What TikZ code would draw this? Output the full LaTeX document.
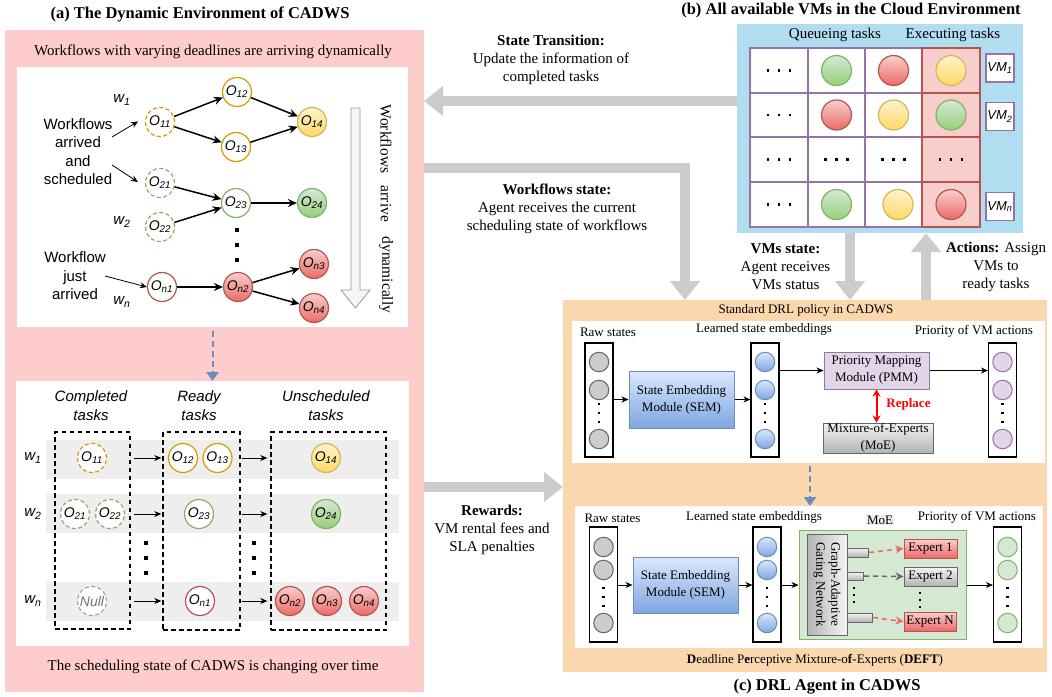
\documentclass[tikz,border=0pt]{standalone}
\usepackage{fontspec}
\setmainfont{Liberation Serif}
\setsansfont{Liberation Sans}
\usetikzlibrary{arrows.meta,calc}
\definecolor{pinkbg}{HTML}{FFCCCC}
\definecolor{bluebg}{HTML}{B1DDF0}
\definecolor{orgbg}{HTML}{FAD7AC}
\definecolor{arrg}{HTML}{CCCCCC}
\definecolor{orgs}{HTML}{D79B00}
\definecolor{yels}{HTML}{D6B656}
\definecolor{yela}{HTML}{FFF2CC}
\definecolor{yelb}{HTML}{FFD966}
\definecolor{grns}{HTML}{82B366}
\definecolor{grna}{HTML}{D5E8D4}
\definecolor{grnb}{HTML}{97D077}
\definecolor{reds}{HTML}{B85450}
\definecolor{reda}{HTML}{F8CECC}
\definecolor{redb}{HTML}{EA6B66}
\definecolor{purs}{HTML}{9673A6}
\definecolor{pura}{HTML}{E1D5E7}
\definecolor{blus}{HTML}{6C8EBF}
\definecolor{blua}{HTML}{DAE8FC}
\definecolor{blub}{HTML}{7EA6E0}
\definecolor{gras}{HTML}{666666}
\definecolor{graa}{HTML}{F5F5F5}
\definecolor{grab}{HTML}{B3B3B3}
\definecolor{rowg}{HTML}{EEEEEE}
\definecolor{repl}{HTML}{FF0000}
\newcommand\fsz[2]{\fontsize{#1}{#2}\selectfont}
\begin{document}
\begin{tikzpicture}[x=1pt,y=-1pt,
  box/.style={anchor=north west,inner sep=0pt,outer sep=0pt},
  t15/.style={font=\fsz{15}{18},align=center,inner sep=0pt},
  t13/.style={font=\fsz{13}{16},align=center,inner sep=0pt},
  ttl/.style={font=\bfseries\fsz{16.5}{20},inner sep=0pt},
  sflab/.style={font=\sffamily\fsz{15}{18.5},align=center,inner sep=0pt},
  sfit/.style={font=\sffamily\itshape\fsz{15}{19},align=center,inner sep=0pt},
  tk/.style={circle,minimum size=29pt,inner sep=0pt,line width=1.2pt,font=\sffamily\itshape\fsz{14}{14}},
  dsh/.style={dash pattern=on 4pt off 2.5pt},
  orgc/.style={tk,draw=orgs,fill=white},
  orgd/.style={orgc,dsh},
  yelf/.style={tk,draw=yels,top color=yela,bottom color=yelb},
  grnc/.style={tk,draw=grns,fill=white},
  grnd/.style={grnc,dsh},
  grnf/.style={tk,draw=grns,top color=grna,bottom color=grnb},
  redc/.style={tk,draw=reds,fill=white},
  redf/.style={tk,draw=reds,top color=reda,bottom color=redb},
  nullc/.style={tk,draw=gray!70,dsh,fill=white,text=gray!90!black},
  thk/.style={line width=1.5pt,-{Stealth[length=9pt,width=8pt]}},
  thn/.style={line width=0.8pt,-{Stealth[length=7pt,width=6pt]}},
  big/.style={line width=10pt,draw=arrg,line join=miter,-{Triangle[length=19pt,width=29pt]}},
  bdash/.style={draw=blus,line width=2pt,dash pattern=on 6pt off 4pt,-{Triangle[length=9pt,width=12pt]}},
  dbox/.style={draw=black,line width=1.4pt,dash pattern=on 4.5pt off 3.5pt,inner sep=0pt},
  vmc/.style={circle,minimum size=30pt,inner sep=0pt,line width=1.2pt},
  vmg/.style={vmc,draw=grns,top color=grna,bottom color=grnb},
  vmr/.style={vmc,draw=reds,top color=reda,bottom color=redb},
  vmy/.style={vmc,draw=yels,top color=yela,bottom color=yelb},
  vmcell/.style={draw=purs,line width=1.5pt,fill=white},
  excell/.style={draw=reds,line width=1.5pt,fill=reda},
  vmlab/.style={draw=purs,line width=1.5pt,fill=white,minimum width=28pt,minimum height=28pt,inner sep=0pt,font=\sffamily\itshape\fsz{13}{13}},
  colbox/.style={draw=black,fill=white,line width=1.2pt,minimum width=28pt,inner sep=0pt},
  nc/.style={circle,minimum size=19.5pt,inner sep=0pt,line width=1pt},
  gc/.style={nc,draw=gras,fill=black!20},
  bc/.style={nc,draw=blus,top color=blua,bottom color=blub},
  pc/.style={nc,draw=purs,fill=pura},
  ec/.style={nc,draw=grns,fill=grna},
  mod/.style={inner sep=0pt,font=\fsz{13}{17},align=center},
  sem/.style={mod,draw=blus,top color=blua,bottom color=blub,line width=1pt,minimum width=105pt,minimum height=57pt},
  grad/.style={draw=gras,top color=graa,bottom color=grab,line width=1pt},
  hd/.pic={\foreach \dd in {-11,0,11}{\fill (\dd-1.4,-1.4) rectangle (\dd+1.4,1.4);}},
  vdb/.pic={\foreach \dd in {-15,0,15}{\fill (-1.7,\dd-1.7) rectangle (1.7,\dd+1.7);}},
  vd/.pic={\foreach \dd in {-9,0,9}{\fill (-1.1,\dd-1.1) rectangle (1.1,\dd+1.1);}},
  vds/.pic={\foreach \dd in {-7,0,7}{\fill (-1,\dd-1) rectangle (1,\dd+1);}},
]
\useasboundingbox (0,0) rectangle (1052,696);
% ---------------- (a) ----------------
\node[ttl] (ta) at (200,14) {(a) The Dynamic Environment of CADWS};
\node[box,fill=pinkbg,minimum width=419pt,minimum height=662pt] (pp) at (5,30) {};
\node[t15] (pt1) at (213,52) {Workflows with varying deadlines are arriving dynamically};
\node[box,fill=white,minimum width=391pt,minimum height=260pt] (wb1) at (17,67) {};
\node[box,fill=white,minimum width=393pt,minimum height=265pt] (wb2) at (16,381) {};
\node[t15] (pt2) at (213,667) {The scheduling state of CADWS is changing over time};
\draw[bdash,shorten <=4pt] (wb1.south) -- (wb2.north);
% top graph
\node[orgd] (o11) at (160,122) {O\textsubscript{11}};
\node[orgc] (o12) at (237,92) {O\textsubscript{12}};
\node[orgc] (o13) at (236,147) {O\textsubscript{13}};
\node[yelf] (o14) at (312,122) {O\textsubscript{14}};
\node[grnd] (o21) at (160,183) {O\textsubscript{21}};
\node[grnd] (o22) at (160,227) {O\textsubscript{22}};
\node[grnc] (o23) at (236,203) {O\textsubscript{23}};
\node[grnf] (o24) at (312,203) {O\textsubscript{24}};
\node[redc] (on1) at (162,287) {O\textsubscript{n1}};
\node[redf] (on2) at (238,287) {O\textsubscript{n2}};
\node[redf] (on3) at (314,264) {O\textsubscript{n3}};
\node[redf] (on4) at (314,308) {O\textsubscript{n4}};
\draw[thk] (o11) -- (o12);
\draw[thk] (o11) -- (o13);
\draw[thk] (o12) -- (o14);
\draw[thk] (o13) -- (o14);
\draw[thk] (o21) -- (o23);
\draw[thk] (o22) -- (o23);
\draw[thk] (o23) -- (o24);
\draw[thk] (on1) -- (on2);
\draw[thk] (on2) -- (on3);
\draw[thk] (on2) -- (on4);
\pic at (237,245) {vdb};
\node[sfit] (lw1) at (122,100) {w\textsubscript{1}};
\node[sfit] (lw2) at (122,222) {w\textsubscript{2}};
\node[sfit] (lwn) at (122,302) {w\textsubscript{n}};
\node[sflab] (tx1) at (78,151.5) {Workflows\\arrived\\and\\scheduled};
\node[sflab] (tx2) at (75,276) {Workflow\\just\\arrived};
\coordinate (p1) at (112,137);
\coordinate (p2) at (112,165);
\coordinate (p3) at (105,276);
\draw[thn,shorten >=9pt] (p1) -- (o11.160);
\draw[thn,shorten >=9pt] (p2) -- (o21.195);
\draw[thn] (p3) -- (on1.west);
\draw[draw=gray!80,fill=graa,line width=0.8pt] (351,108) -- (360,108) -- (360,290) -- (370,290) -- (355.5,308) -- (341,290) -- (351,290) -- cycle;
\node[t15,font=\fsz{15.5}{16},rotate=-90] (r1) at (386,139) {Workflows};
\node[t15,font=\fsz{15.5}{16},rotate=-90] (r2) at (386,204) {arrive};
\node[t15,font=\fsz{15.5}{16},rotate=-90] (r3) at (386,275) {dynamically};
% bottom table
\fill[rowg] (46,440) rectangle (399,479);
\fill[rowg] (46,494) rectangle (399,533);
\fill[rowg] (46,582) rectangle (399,621);
\node[sfit] (h1) at (91,406) {Completed\\tasks};
\node[sfit] (h2) at (199,406) {Ready\\tasks};
\node[sfit] (h3) at (326,406) {Unscheduled\\tasks};
\node[dbox,minimum width=75pt,minimum height=197pt] (db1) at (92.5,530.5) {};
\node[dbox,minimum width=77pt,minimum height=198pt] (db2) at (201.5,531) {};
\node[dbox,minimum width=115pt,minimum height=198pt] (db3) at (328.5,531) {};
\node[sfit] (bw1) at (33,458) {w\textsubscript{1}};
\node[sfit] (bw2) at (33,514) {w\textsubscript{2}};
\node[sfit] (bwn) at (33,601) {w\textsubscript{n}};
\node[orgd] (b11) at (92,458) {O\textsubscript{11}};
\node[orgc] (b12) at (183,458) {O\textsubscript{12}};
\node[orgc] (b13) at (217.5,458) {O\textsubscript{13}};
\node[yelf] (b14) at (326,458) {O\textsubscript{14}};
\node[grnd] (b21) at (75,514) {O\textsubscript{21}};
\node[grnd] (b22) at (110,514) {O\textsubscript{22}};
\node[grnc] (b23) at (199,514) {O\textsubscript{23}};
\node[grnf] (b24) at (326,514) {O\textsubscript{24}};
\node[nullc] (bn0) at (92,601) {Null};
\node[redc] (bn1) at (200,601) {O\textsubscript{n1}};
\node[redf] (bn2) at (290,601) {O\textsubscript{n2}};
\node[redf] (bn3) at (327,601) {O\textsubscript{n3}};
\node[redf] (bn4) at (364,601) {O\textsubscript{n4}};
\foreach \r in {b11,b21,bn0}{
  \draw[thn,shorten <=3pt,shorten >=1pt] (db1.east |- \r) -- (db2.west |- \r);
  \draw[thn,shorten <=1pt,shorten >=3pt] (db2.east |- \r) -- (db3.west |- \r);
}
\pic at (146,558) {vdb};
\pic at (254,558) {vdb};
% ---------------- (b) ----------------
\node[ttl] (tb) at (851,11) {(b) All available VMs in the Cloud Environment};
\node[box,fill=bluebg,minimum width=286pt,minimum height=209pt] (bp) at (737,24) {};
\node[t15] (qt) at (835,35) {Queueing tasks};
\node[t15] (et) at (953,35) {Executing tasks};
\foreach \xa/\xb in {750/808,808/865,865/922}
  \foreach \ya/\yb in {48/93,93/137,137/182,182/227}
    \draw[vmcell] (\xa,\ya) rectangle (\xb,\yb);
\foreach \ya/\yb in {48/93,93/137,137/182,182/227}
  \draw[excell] (922,\ya) rectangle (980,\yb);
\node[vmg] (c12) at (836.5,70.5) {};
\node[vmr] (c13) at (893.5,70.5) {};
\node[vmy] (c14) at (951,70.5) {};
\node[vmr] (c22) at (836.5,115) {};
\node[vmy] (c23) at (893.5,115) {};
\node[vmg] (c24) at (951,115) {};
\node[vmg] (c42) at (836.5,204.5) {};
\node[vmy] (c43) at (898,204.5) {};
\node[vmr] (c44) at (951,204.5) {};
\pic at (779,70.5) {hd};
\pic at (779,115) {hd};
\pic at (779,159.5) {hd};
\pic at (836.5,159.5) {hd};
\pic at (893.5,159.5) {hd};
\pic at (951,159.5) {hd};
\pic at (779,204.5) {hd};
\node[vmlab] (vm1) at (1000,68) {VM\textsubscript{1}};
\node[vmlab] (vm2) at (1000,116.5) {VM\textsubscript{2}};
\node[vmlab] (vmn) at (1000,206.5) {VM\textsubscript{n}};
% ---------------- (c) ----------------
\node[box,fill=orgbg,minimum width=484pt,minimum height=372pt] (op) at (563,300) {};
\node[t13] (sd) at (806,310) {Standard DRL policy in CADWS};
\node[box,fill=white,minimum width=473pt,minimum height=142pt] (wu) at (572,321) {};
\node[box,fill=white,minimum width=468pt,minimum height=142pt] (wl) at (575,506) {};
\coordinate (hDA) at (810,0);
\draw[bdash,shorten <=3pt] (wu.south -| hDA) -- (wl.north -| hDA);
% upper
\node[t13] (ul1) at (608,332) {Raw states};
\node[t13] (ul2) at (764,329) {Learned state embeddings};
\node[t13] (ul3) at (974,331) {Priority of VM actions};
\node[colbox,minimum height=114pt] (ru) at (599,400) {};
\node[gc] (ru1) at (599,362) {};
\node[gc] (ru2) at (599,390) {};
\node[gc] (ru3) at (599,439) {};
\pic at (599,413) {vd};
\node[sem] (semu) at (681.5,399.5) {State Embedding\\Module (SEM)};
\node[colbox,minimum height=114pt] (eu) at (765,400) {};
\node[bc] (eu1) at (765,362) {};
\node[bc] (eu2) at (765,390) {};
\node[bc] (eu3) at (765,439) {};
\pic at (765,413) {vd};
\node[mod,draw=purs,fill=pura,line width=1pt,minimum width=105pt,minimum height=37pt] (pmm) at (876.5,370.5) {Priority Mapping\\Module (PMM)};
\node[mod,grad,minimum width=110pt,minimum height=30pt] (moeu) at (878,438) {Mixture-of-Experts\\(MoE)};
\node[colbox,minimum height=114pt] (pu) at (1002.5,400) {};
\node[pc] (pu1) at (1002.5,362) {};
\node[pc] (pu2) at (1002.5,390) {};
\node[pc] (pu3) at (1002.5,439) {};
\pic at (1002.5,413) {vd};
\draw[thn] (ru.east |- semu) -- (semu.west);
\draw[thn] (semu.east) -- (eu.west |- semu);
\draw[thn] (eu.east |- pmm) -- (pmm.west);
\draw[thn] (pmm.east) -- (pu.west |- pmm);
\draw[draw=repl,line width=2pt,{Stealth[length=7pt,width=8pt]}-{Stealth[length=7pt,width=8pt]}] (pmm.south) -- (pmm.south |- moeu.north);
\node[t13,font=\bfseries\fsz{13}{16},text=repl] (rp) at (908.5,404) {Replace};
% lower
\node[t13] (ll1) at (612.5,518) {Raw states};
\node[t13] (ll2) at (754,517) {Learned state embeddings};
\node[t13] (ll3) at (977,517) {Priority of VM actions};
\node[colbox,minimum height=115pt] (rl) at (603.5,584.5) {};
\node[gc] (rl1) at (603.5,547) {};
\node[gc] (rl2) at (603.5,570) {};
\node[gc] (rl3) at (603.5,623) {};
\pic at (603.5,597) {vd};
\node[sem,minimum height=56pt] (seml) at (685.5,585) {State Embedding\\Module (SEM)};
\node[colbox,minimum height=115pt] (el) at (767,584.5) {};
\node[bc] (el1) at (767,547) {};
\node[bc] (el2) at (767,570) {};
\node[bc] (el3) at (767,623) {};
\pic at (767,597) {vd};
\node[draw=grns,fill=grna,line width=1pt,minimum width=167pt,minimum height=109pt,inner sep=0pt] (moel) at (882.5,584.5) {};
\node[t13,fill=rowg,inner sep=1pt] (moet) at (880,520) {MoE};
\node[draw=gras,left color=grab,right color=graa,line width=1pt,minimum width=40pt,minimum height=101pt,inner sep=0pt] (gate) at (827,584.5) {};
\node[t13,font=\fsz{13}{15},rotate=-90] (gatet) at (gate.center) {Graph-Adaptive\\Gating Network};
\node[grad,anchor=west,minimum width=21pt,minimum height=9pt,inner sep=0pt] (bar1) at (847,552.5) {};
\node[grad,anchor=west,minimum width=16pt,minimum height=8pt,inner sep=0pt] (bar2) at (847,576) {};
\node[grad,anchor=west,minimum width=25pt,minimum height=9pt,inner sep=0pt] (bar3) at (847,617.5) {};
\node[mod,draw=reds,top color=reda,bottom color=redb,line width=1pt,minimum width=53pt,minimum height=19pt] (ex1) at (930.5,548.5) {Expert 1};
\node[mod,grad,minimum width=53pt,minimum height=19pt] (ex2) at (930.5,576.5) {Expert 2};
\node[mod,draw=reds,top color=reda,bottom color=redb,line width=1pt,minimum width=52pt,minimum height=19pt] (exn) at (930,621.5) {Expert N};
\draw[draw=redb,line width=1.5pt,dash pattern=on 5pt off 4pt,-{Stealth[length=8pt,width=8pt]}] (bar1.east) -- (ex1.west);
\draw[draw=gras,line width=1.5pt,dash pattern=on 5pt off 4pt,-{Stealth[length=8pt,width=8pt]}] (bar2.east) -- (ex2.west);
\draw[draw=redb,line width=1.5pt,dash pattern=on 5pt off 4pt,-{Stealth[length=8pt,width=8pt]}] (bar3.east) -- (exn.west);
\pic at (854,595) {vds};
\pic at (920,600) {vds};
\node[colbox,minimum height=115pt] (pl) at (1007.5,584.5) {};
\node[ec] (pl1) at (1007.5,547) {};
\node[ec] (pl2) at (1007.5,570) {};
\node[ec] (pl3) at (1007.5,623) {};
\pic at (1007.5,597) {vd};
\draw[thn] (rl.east |- seml) -- (seml.west);
\draw[thn] (seml.east) -- (el.west |- seml);
\draw[thn] (el.east |- seml) -- (moel.west |- seml);
\draw[thn] (moel.east |- seml) -- (pl.west |- seml);
\node[t13] (deft) at (815,660) {\textbf{D}eadline P\textbf{e}rceptive Mixture-o\textbf{f}-Experts (\textbf{DEFT})};
\node[ttl] (tc) at (827,687) {(c) DRL Agent in CADWS};
% ---------------- big arrows and labels ----------------
\coordinate (hST) at (0,101);
\coordinate (hWS) at (685,168);
\coordinate (hVS) at (850,0);
\coordinate (hAC) at (926,0);
\coordinate (hRW) at (0,487);
\draw[big] (bp.west |- hST) -- (pp.east |- hST);
\draw[big] (pp.east |- hWS) -| (op.north -| hWS);
\draw[big] (bp.south -| hVS) -- (op.north -| hVS);
\draw[big] (op.north -| hAC) -- (bp.south -| hAC);
\draw[big] (pp.east |- hRW) -- (op.west |- hRW);
\node[t15] (lst) at (551,60) {\textbf{State Transition:}\\Update the information of\\completed tasks};
\node[t15] (lws) at (557,209) {\textbf{Workflows state:}\\Agent receives the current\\scheduling state of workflows};
\node[t15] (lvs) at (785.5,267) {\textbf{VMs state:}\\Agent receives\\VMs status};
\node[t15] (lac) at (996,267) {\textbf{Actions:} Assign\\VMs to\\ready tasks};
\node[t15] (lrw) at (492,529.5) {\textbf{Rewards:}\\VM rental fees and\\SLA penalties};
\end{tikzpicture}
\end{document}
